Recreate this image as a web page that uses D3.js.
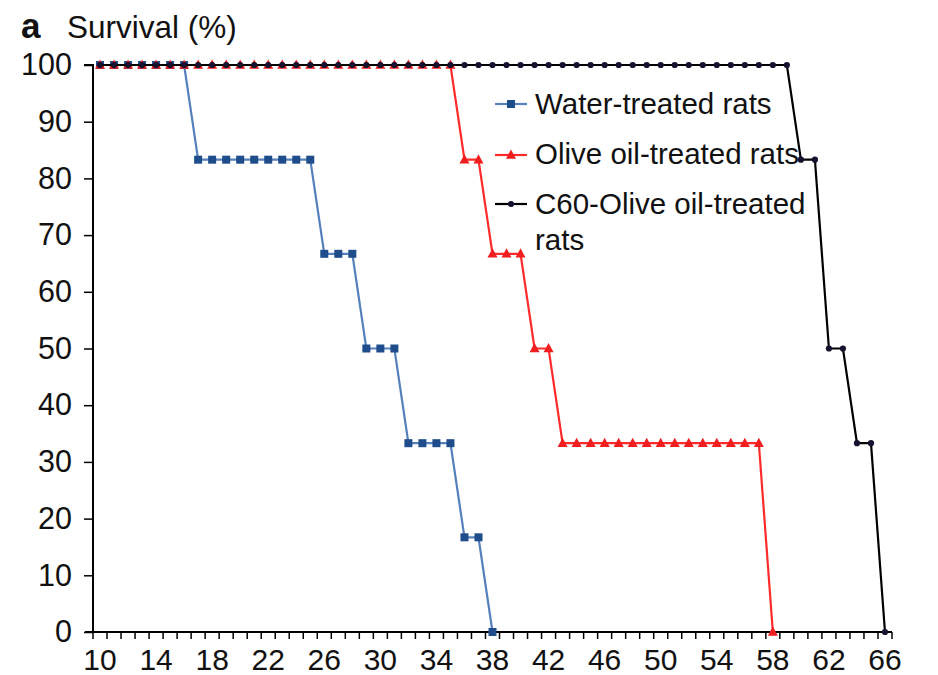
<!DOCTYPE html>
<html>
<head>
<meta charset="utf-8">
<script src="https://cdn.jsdelivr.net/npm/d3@7"></script>
<style>
  html, body { margin: 0; padding: 0; background: #fff; }
  svg { display: block; font-family: "Liberation Sans", Arial, sans-serif; }
</style>
</head>
<body>
<svg id="chart" width="938" height="675"></svg>
<script>
// ---- data ----
const days = [10,11,12,13,14,15,16,17,18,19,20,21,22,23,24,25,26,27,28,29,30,31,32,33,34,35,36,37,38,
              39,40,41,42,43,44,45,46,47,48,49,50,51,52,53,54,55,56,57,58,59,60,61,62,63,64,65,66];
const xTickLabels = [10,14,18,22,26,30,34,38,42,46,50,54,58,62,66];
const yTicks = [0,10,20,30,40,50,60,70,80,90,100];

// survival (%) per day, starting at day 10
const waterSurvival = [100,100,100,100,100,100,100,
  83.3,83.3,83.3,83.3,83.3,83.3,83.3,83.3,83.3,
  66.7,66.7,66.7,
  50,50,50,
  33.3,33.3,33.3,33.3,
  16.7,16.7,
  0];
const oliveSurvival = [100,100,100,100,100,100,100,100,100,100,100,100,100,
  100,100,100,100,100,100,100,100,100,100,100,100,100,
  83.3,83.3,
  66.7,66.7,66.7,
  50,50,
  33.3,33.3,33.3,33.3,33.3,33.3,33.3,33.3,33.3,33.3,33.3,33.3,33.3,33.3,33.3,
  0];
const c60Survival = [100,100,100,100,100,100,100,100,100,100,100,100,100,100,100,100,100,100,100,100,100,100,100,100,100,
  100,100,100,100,100,100,100,100,100,100,100,100,100,100,100,100,100,100,100,100,100,100,100,100,100,
  83.3,83.3,
  50,50,
  33.3,33.3,
  0];
const seriesNames = ["Water-treated rats", "Olive oil-treated rats", "C60-Olive oil-treated rats"];

// ---- layout ----
const svg = d3.select("#chart");
const mLeft = 93, mRight = 892, mTop = 65, mBottom = 632;

const x = d3.scaleBand().domain(days).range([mLeft, mRight]).paddingInner(0).paddingOuter(0);
const y = d3.scaleLinear().domain([0, 100]).range([mBottom, mTop]);
const cx = d => x(d) + x.bandwidth() / 2;

const series = [
  { name: seriesNames[0], values: waterSurvival, line: "#5580bb", mark: "#1f4c8a", shape: "square" },
  { name: seriesNames[1], values: oliveSurvival, line: "#ff2b2b", mark: "#f01e1e", shape: "triangle" },
  { name: seriesNames[2], values: c60Survival, line: "#000000", mark: "#14122e", shape: "circle" }
];

// ---- axes ----
const yAxis = d3.axisLeft(y).tickValues(yTicks).tickSize(9).tickPadding(12).tickFormat(d3.format("d"));
const gy = svg.append("g").attr("transform", `translate(${mLeft},0)`).call(yAxis);
gy.select(".domain").attr("stroke", "#000").attr("stroke-width", 2).attr("d", `M-9,${mTop}H0V${mBottom}`);
gy.selectAll(".tick line").attr("stroke", "#000").attr("stroke-width", 1.5);
gy.selectAll(".tick text").attr("font-size", 30.5).attr("fill", "#111").attr("font-family", "Liberation Sans, Arial, sans-serif");

const gx = svg.append("g").attr("transform", `translate(0,${mBottom})`);
gx.append("line").attr("x1", mLeft - 8).attr("x2", mRight).attr("y1", 0).attr("y2", 0)
  .attr("stroke", "#000").attr("stroke-width", 2);
const boundaries = days.map(d => x(d)).concat([x(days[days.length - 1]) + x.bandwidth()]);
gx.selectAll("line.tk").data(boundaries).join("line").attr("class", "tk")
  .attr("x1", d => d).attr("x2", d => d).attr("y1", 0).attr("y2", 7)
  .attr("stroke", "#000").attr("stroke-width", 1.5);
gx.selectAll("text").data(xTickLabels).join("text")
  .attr("x", d => cx(d)).attr("y", 37.5)
  .attr("text-anchor", "middle").attr("font-size", 30).attr("fill", "#111")
  .text(d => d);

// ---- series ----
function drawMarker(g, shape, color, px, py) {
  if (shape === "square") {
    g.append("rect").attr("x", px - 4).attr("y", py - 4).attr("width", 8).attr("height", 8).attr("fill", color);
  } else if (shape === "triangle") {
    g.append("path").attr("d", `M${px},${py - 5.5}L${px + 5},${py + 3.8}L${px - 5},${py + 3.8}Z`).attr("fill", color);
  } else {
    g.append("circle").attr("cx", px).attr("cy", py).attr("r", 3.1).attr("fill", color);
  }
}

const lineGen = d3.line().x(d => cx(d.day)).y(d => y(d.v));
series.forEach(s => {
  const pts = s.values.map((v, i) => ({ day: days[i], v }));
  const g = svg.append("g");
  g.append("path").datum(pts).attr("d", lineGen).attr("fill", "none")
    .attr("stroke", s.line).attr("stroke-width", 2.2);
  pts.forEach(p => drawMarker(g, s.shape, s.mark, cx(p.day), y(p.v)));
});

// ---- legend ----
const legendRows = [
  { lineY: 104, textY: 114, lines: ["Water-treated rats"] },
  { lineY: 155, textY: 164, lines: ["Olive oil-treated rats"] },
  { lineY: 204, textY: 214, lines: ["C60-Olive oil-treated", "rats"] }
];
const lg = svg.append("g");
legendRows.forEach((r, i) => {
  const s = series[i];
  lg.append("line").attr("x1", 495).attr("x2", 527).attr("y1", r.lineY).attr("y2", r.lineY)
    .attr("stroke", s.line).attr("stroke-width", 2.2);
  drawMarker(lg, s.shape, s.mark, 511, r.lineY);
  const t = lg.append("text").attr("x", 535).attr("y", r.textY).attr("font-size", 29.5).attr("fill", "#111");
  r.lines.forEach((ln, j) => t.append("tspan").attr("x", 535).attr("dy", j === 0 ? 0 : 36).text(ln));
});

// ---- title ----
const title = svg.append("text").attr("x", 21).attr("y", 38).attr("fill", "#111");
title.append("tspan").attr("font-weight", "bold").attr("font-size", 35).text("a");
title.append("tspan").attr("x", 67).attr("font-size", 31.5).text("Survival (%)");
</script>
</body>
</html>
